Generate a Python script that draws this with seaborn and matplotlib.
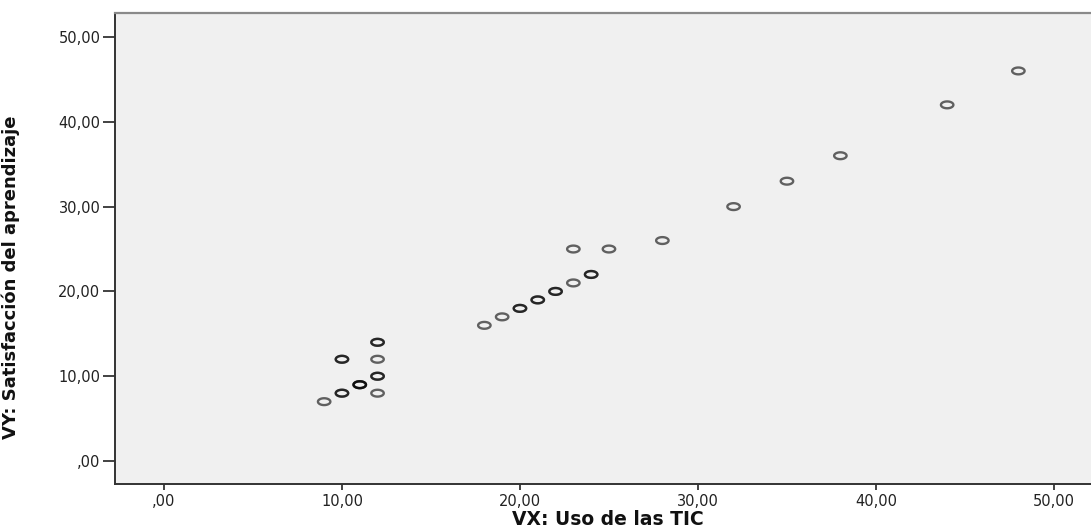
import matplotlib
matplotlib.use("Agg")
import matplotlib.pyplot as plt
import numpy as np
import pandas as pd
import seaborn as sns
from matplotlib.path import Path
from matplotlib.ticker import FuncFormatter

# Data (repeated pairs = overlapping cases)
vx = [9, 10, 10, 10, 10, 11, 11, 11, 12, 12, 12, 12, 12, 12,
      18, 19, 20, 20, 21, 21, 22, 22, 23, 23, 24, 24, 25, 28,
      32, 35, 38, 44, 48]
vy = [7, 8, 8, 12, 12, 9, 9, 9, 8, 10, 10, 12, 14, 14,
      16, 17, 18, 18, 19, 19, 20, 20, 21, 25, 22, 22, 25, 26,
      30, 33, 36, 42, 46]
ticks = [0, 10, 20, 30, 40, 50]

df = pd.DataFrame({'VX': vx, 'VY': vy})

sns.set_style("white")
plt.rcParams['font.family'] = ['DejaVu Sans']

fig = plt.figure(figsize=(10.91, 5.31), dpi=100)
ax = fig.add_axes([0.1054, 0.0885, 0.8946, 0.887])
ax.set_facecolor('#f0f0f0')

# squashed circle like the stretched SPSS marker
t = np.linspace(0, 2 * np.pi, 64)
ellipse = Path(np.column_stack([np.cos(t), 0.55 * np.sin(t)]), closed=True)

sns.scatterplot(data=df, x='VX', y='VY', ax=ax, marker=ellipse, s=80,
                facecolor='none', edgecolor=(0, 0, 0, 0.6), linewidth=1.7)

ax.set_xlim(-2.75, 52.08)
ax.set_ylim(-2.71, 52.83)
ax.set_xticks(ticks)
ax.set_yticks(ticks)
fmt = FuncFormatter(lambda v, p: ',00' if v == 0 else f'{int(v)},00')
ax.xaxis.set_major_formatter(fmt)
ax.yaxis.set_major_formatter(fmt)
ax.tick_params(axis='x', direction='out', length=4, width=1.2, pad=3,
               labelsize=10.5, colors='#222222', bottom=True)
ax.tick_params(axis='y', direction='out', length=9, width=1.2, pad=1.5,
               labelsize=10.5, colors='#222222', left=True)

for side in ['left', 'bottom']:
    ax.spines[side].set_color('#333333')
    ax.spines[side].set_linewidth(1.4)
ax.spines['top'].set_color('#8a8a8a')
ax.spines['top'].set_linewidth(1.6)
ax.spines['right'].set_visible(False)

ax.set_xlabel('VX: Uso de las TIC', fontsize=13.5, fontweight='bold',
              color='#111111')
ax.xaxis.set_label_coords(0.505, -0.056)
ax.set_ylabel('VY: Satisfacción del aprendizaje', fontsize=13,
              fontweight='bold', color='#111111')
ax.yaxis.set_label_coords(-0.097, 0.44)

fig.savefig('out.png', dpi=100)
